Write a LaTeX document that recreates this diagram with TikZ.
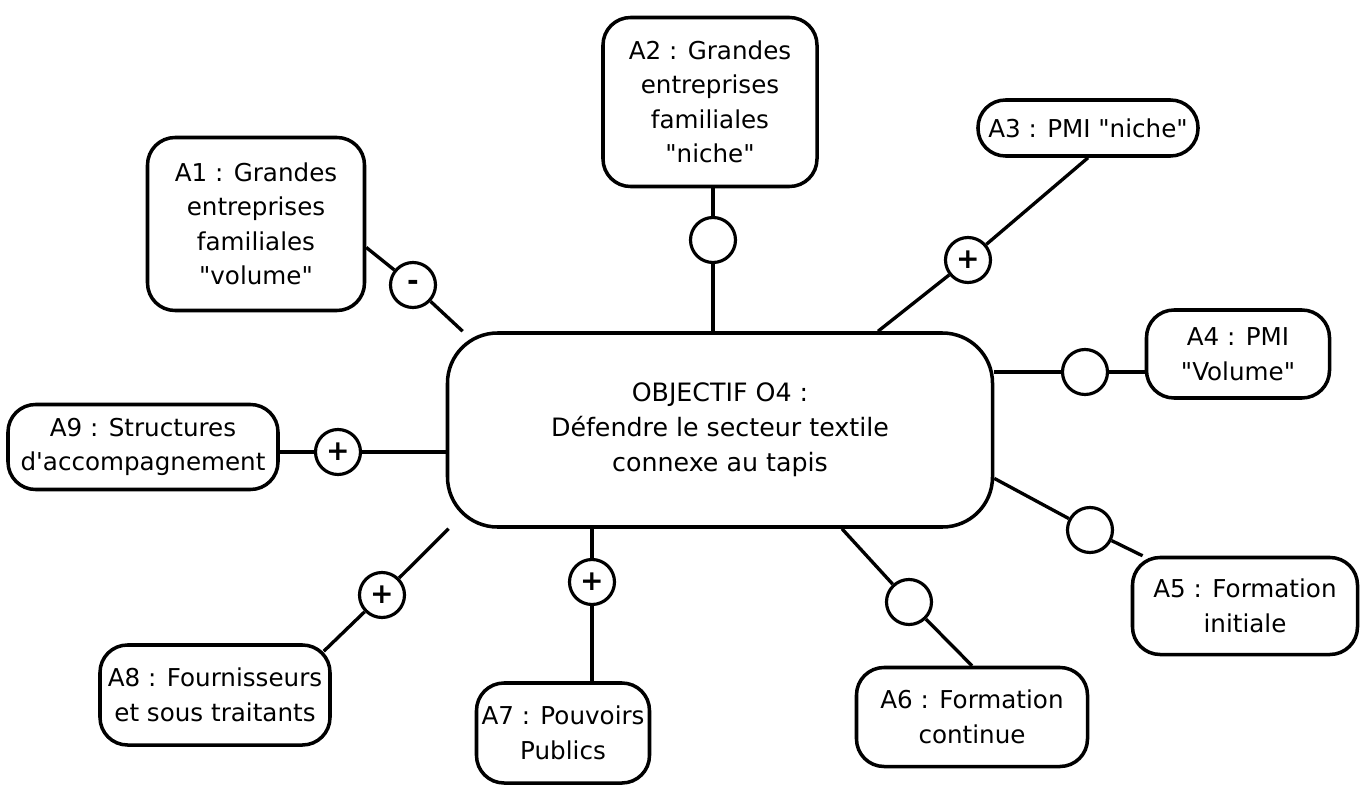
\documentclass[tikz,border=0pt]{standalone}
\usepackage{fontspec}
\setmainfont{DejaVu Sans}
\tikzset{
  acteur/.style={draw, line width=2pt, rounded corners=5.5mm, align=center,
    inner sep=0pt, font=\fontsize{14}{19.6}\selectfont},
  objectif/.style={acteur, rounded corners=10mm, font=\fontsize{14.4}{19.8}\selectfont},
  signe/.style={draw, circle, line width=1.8pt, minimum size=9mm, inner sep=0pt,
    fill=white, font=\fontsize{16}{16}\selectfont\bfseries},
  lien/.style={line width=1.9pt}
}
\begin{document}
\begin{tikzpicture}[x=0.2mm, y=-0.2mm]
  % the frame
  \useasboundingbox (0,0) rectangle (1365,786);

  % the objective
  \node[objectif, minimum width=109mm, minimum height=38.8mm] (obj) at (720,430)
    {OBJECTIF O4 :\\ Défendre le secteur textile\\ connexe au tapis};

  % the actors
  \node[acteur, minimum width=43.4mm, minimum height=34.6mm] (a1) at (256,224)
    {A1 : Grandes\\ entreprises\\ familiales\\ \textquotedbl volume\textquotedbl};
  \node[acteur, minimum width=42.8mm, minimum height=33.8mm] (a2) at (710,102)
    {A2 : Grandes\\ entreprises\\ familiales\\ \textquotedbl niche\textquotedbl};
  \node[acteur, minimum width=44mm, minimum height=11.2mm] (a3) at (1088,128)
    {A3 : PMI \textquotedbl niche\textquotedbl};
  \node[acteur, minimum width=36.6mm, minimum height=17.6mm] (a4) at (1238,354)
    {A4 : PMI\\ \textquotedbl Volume\textquotedbl};
  \node[acteur, minimum width=45mm, minimum height=19.4mm] (a5) at (1245,606)
    {A5 : Formation\\ initiale};
  \node[acteur, minimum width=46.2mm, minimum height=19.8mm] (a6) at (972,717)
    {A6 : Formation\\ continue};
  \node[acteur, minimum width=34.6mm, minimum height=20mm] (a7) at (563,733)
    {A7 : Pouvoirs\\ Publics};
  \node[acteur, minimum width=46mm, minimum height=20mm] (a8) at (215,695)
    {A8 : Fournisseurs\\ et sous traitants};
  \node[acteur, minimum width=54mm, minimum height=17mm] (a9) at (143,447)
    {A9 : Structures\\ d\textquotesingle accompagnement};

  % the signs
  \node[signe] (s1) at (413,285) {-};
  \node[signe] (s2) at (713,240) {};
  \node[signe] (s3) at (968,260) {+};
  \node[signe] (s4) at (1085,372) {};
  \node[signe] (s5) at (1090,530) {};
  \node[signe] (s6) at (909,602) {};
  \node[signe] (s7) at (592,582) {+};
  \node[signe] (s8) at (382,595) {+};
  \node[signe] (s9) at (338,452) {+};

  % the links
  \draw[lien] (a1.-12) -- (s1) -- (obj.159);
  \draw[lien] (s2 |- a2.south) -- (s2) -- (s2 |- obj.north);
  \draw[lien] (a3.south) -- (s3) -- (obj.32);
  \draw[lien] (obj.east |- s4) -- (s4) -- (s4 -| a4.west);
  \draw[lien] (obj.-10) -- (s5) -- (a5);
  \draw[lien] (obj.-39) -- (s6) -- (a6.north);
  \draw[lien] (s7 |- obj.south) -- (s7) -- (s7 |- a7.north);
  \draw[lien] (obj.200) -- (s8) -- ([shift={(-1.6mm,-1.6mm)}]a8.north east);
  \draw[lien] (a9.east |- s9) -- (s9) -- (s9 -| obj.west);
\end{tikzpicture}
\end{document}
